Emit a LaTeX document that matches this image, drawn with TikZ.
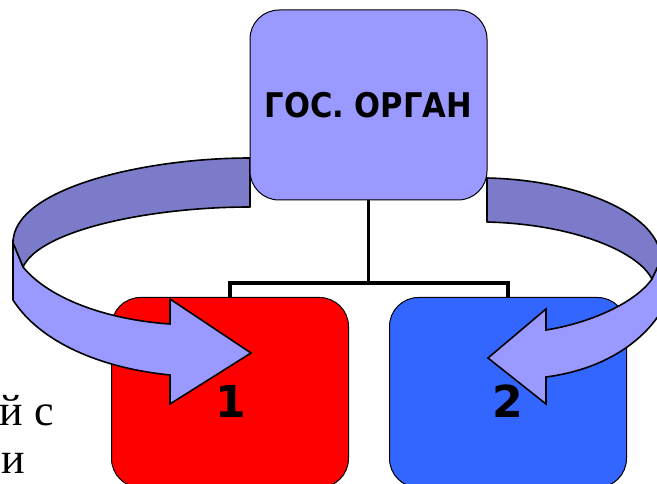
\documentclass[tikz,border=0pt]{standalone}
\usepackage{fontspec}
\setmainfont{Liberation Serif}
\newfontfamily\fragfont{Liberation Serif}
\newfontfamily\orgfont{DejaVu Sans Condensed Bold}
\newfontfamily\numfont{DejaVu Sans Bold}
\definecolor{boxlilac}{HTML}{9999FF}
\definecolor{bandback}{HTML}{7B7BC9}
\definecolor{boxred}{HTML}{FF0000}
\definecolor{boxblue}{HTML}{3366FF}
\tikzset{
  orgbox/.style={draw=black, line width=1pt, rounded corners=29pt,
    minimum width=237pt, minimum height=190pt, inner sep=0pt},
  backband/.style={draw=black, line width=1.6pt, fill=bandback, line join=round},
  frontband/.style={draw=black, line width=1.6pt, fill=boxlilac},
  conn/.style={line width=3.5pt},
  numlabel/.style={font=\numfont\fontsize{44}{48}\selectfont, inner sep=0pt},
  fragtext/.style={font=\fragfont\fontsize{44}{48}\selectfont, inner sep=0pt, anchor=base west}
}
\begin{document}
\begin{tikzpicture}[x=1pt,y=-1pt]
  \useasboundingbox (0,0) rectangle (657,484);
  \clip (0,0) rectangle (657,484);
  % text behind the picture
  \node[fragtext] (frag1) at (-0.5,425) {й с};
  \node[fragtext] (frag2) at (1,473) {и};
  % back parts of the curved arrows
  \draw[backband] (250,158) .. controls (145,158) and (13,188) .. (13,243)
    -- (23,267) .. controls (40,230) and (150,207) .. (250,207) -- cycle;
  \draw[backband] (487,178) .. controls (580,180) and (661,215) .. (661,260)
    -- (652,279) .. controls (637,250) and (570,224) .. (487,222) -- cycle;
  % boxes
  \node[orgbox, fill=boxlilac, font=\orgfont\fontsize{34}{40}\selectfont]
    (organ) at (368.5,105) {ГОС. ОРГАН};
  \node[orgbox, fill=boxred] (red) at (230,392.5) {};
  \node[orgbox, fill=boxblue] (blue) at (508,392.5) {};
  \node[numlabel] (one) at (231,401) {1};
  \node[numlabel] (two) at (508,401) {2};
  % connectors
  \coordinate (fork) at (368.5,283);
  \draw[conn] (organ.south) -- (fork);
  \draw[conn] (red.north) |- (fork) -| (blue.north);
  % front parts with heads
  \draw[frontband] (13,243) -- (23,267) .. controls (50,300) and (110,320) .. (170,324)
    -- (170,299) -- (251,353) -- (170,404) -- (170,375)
    .. controls (100,368) and (40,342) .. (13,300) -- cycle;
  \draw[frontband] (661,260) -- (652,279) .. controls (635,303) and (590,323) .. (546,330)
    -- (546,309) -- (488,358) -- (546,404) -- (546,377)
    .. controls (600,370) and (640,345) .. (661,312) -- cycle;
\end{tikzpicture}
\end{document}
